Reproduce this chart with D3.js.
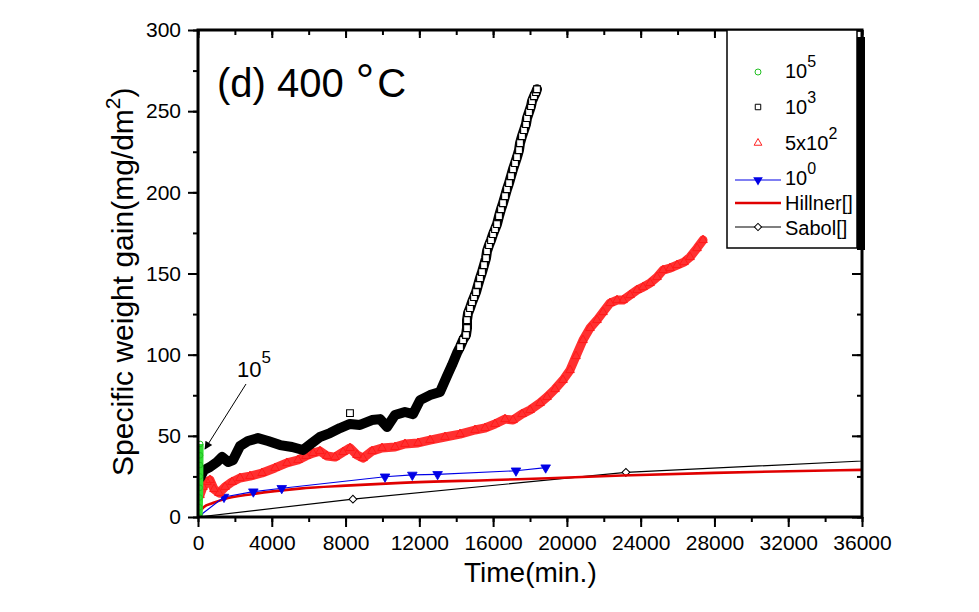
<!DOCTYPE html>
<html><head><meta charset="utf-8">
<script src="https://cdn.jsdelivr.net/npm/d3@7"></script>
<style>
body{margin:0;background:#fff}
svg{display:block}
text{font-family:"Liberation Sans",Arial,Helvetica,sans-serif;fill:#000}
</style>
</head><body>
<svg id="chart" width="979" height="612"></svg>
<script>
// ---------- data (time in min, specific weight gain in mg/dm2) ----------
const xTickValues = [0,4000,8000,12000,16000,20000,24000,28000,32000,36000];
const yTickValues = [0,50,100,150,200,250,300];

// 10^5 (green circles) - essentially a vertical cluster near t=0
const gain1e5 = [[60,0],[75,6],[85,12],[95,18],[100,25],[105,32],[110,38],[115,45]];

// 10^3 (black squares) - dense noisy part (appears as solid band)
const gain1e3Dense = [
 [108,24],[325,28.9],[650,30.8],[1030,33.9],[1300,37],[1630,33.9],[1900,35.1],[2280,43.7],
 [2710,46.8],[3250,48.6],[3800,46.8],[4450,44.3],[5100,43.1],[5690,41.3],[6180,45.6],[6610,49.3],
 [7160,51.7],[7700,54.8],[8240,57.3],[8780,56.7],[9430,59.7],[9870,60.3],[10250,55.4],[10680,62.8],
 [11220,64.7],[11660,63.4],[12040,72],[12580,75.1],[13120,77],[13500,86.8],[13770,93.6],[14040,101]
];
// 10^3 (black squares) - individually visible squares
const gain1e3Sparse = [
 [8240,64],
 [14206,104.7],[14369,109],[14531,112.1],[14585,116.4],[14585,121.3],[14640,125.6],[14748,128.7],
 [14857,132.4],[14965,135.5],[15074,138.5],[15182,142.9],[15290,147.2],[15399,150.9],[15507,155.2],
 [15616,159.5],[15670,163.8],[15778,167.5],[15887,170.6],[15995,174.3],[16104,177.3],[16212,180.4],
 [16320,185.3],[16429,189.7],[16537,193.3],[16646,197.7],[16754,202],[16863,205.7],[16971,210],
 [17079,214.3],[17188,218],[17296,221.7],[17405,226],[17459,230.3],[17567,234.6],[17676,238.3],
 [17784,242],[17838,245.7],[17947,249.4],[18055,253.1],[18109,256.2],[18218,259.2],[18326,261.7],[18380,263.5]
];

// 5x10^2 (red triangles)
const gain5e2 = [
 [108,13.5],[271,18.5],[488,21.6],[651,22.8],[868,17.2],[1139,14.8],[1464,18.5],[1843,21.6],
 [2277,24],[2819,25.2],[3470,27.1],[4175,30.2],[4825,33.3],[5422,35.1],[5856,37.6],[6235,39.4],
 [6615,40.6],[6994,37.6],[7428,36.9],[7862,40],[8241,42.5],[8621,38.2],[8946,36.3],[9434,40.6],
 [9976,42.5],[10681,43.1],[11223,45],[11928,45.6],[12579,47.4],[13392,49.3],[14206,51.1],[15019,53.6],
 [15561,54.8],[16103,57.3],[16646,60.3],[17079,59.7],[17567,63.4],[18001,65.9],[18543,70.2],[18923,73.9],
 [19357,78.8],[19790,84.4],[20170,90.5],[20495,99.1],[20875,109],[21254,116.4],[21634,121.3],[21959,126.2],
 [22339,131.8],[22718,133.6],[23044,133.6],[23423,136.7],[23803,139.8],[24128,141.6],[24508,144.1],
 [24887,147.8],[25212,152.1],[25592,153.3],[25971,155.2],[26351,157],[26676,160.1],[27056,165.6],[27381,170.6]
];

// 10^0 (blue line + down triangles)
const gain1e0 = [[0,0],[1410,12.3],[3000,15.6],[4540,17.7],[10140,24.8],[11620,25.9],[12990,26.3],[17240,28.5],[18850,30.4]];

// Hillner model (red line)
const hillner = [[0,0],[100,3],[300,6],[800,8.6],[1400,11],[3000,14.2],[5500,17.5],[8000,19.3],[11000,21],
 [16000,22.8],[19000,23.9],[23000,25.6],[28000,27.2],[32000,28.2],[36000,29]];

// Sabol model (black line + diamonds)
const sabol = [[0,0],[8400,11],[23200,27.5],[40000,36.7]];

// legend
const legendBase = ["10","10","5x10","10","Hillner[]","Sabol[]"];
const legendSup  = ["5","3","2","0","",""];

// ---------- drawing ----------
const svg = d3.select("#chart");
const L = 198, R = 862, T = 30, B = 517;
const x = d3.scaleLinear().domain([0,36000]).range([L,R]);
const y = d3.scaleLinear().domain([0,300]).range([B,T]);

svg.append("defs").append("clipPath").attr("id","plotclip")
  .append("rect").attr("x",L).attr("y",T).attr("width",R-L).attr("height",B-T);

const plot = svg.append("g").attr("clip-path","url(#plotclip)");
const line = d3.line().x(d=>x(d[0])).y(d=>y(d[1]));

// Sabol
plot.append("path").datum(sabol).attr("d",line).attr("fill","none").attr("stroke","#000").attr("stroke-width",1.2);
plot.selectAll(".sab").data(sabol).join("path")
  .attr("d",d3.symbol(d3.symbolSquare,30)())
  .attr("transform",d=>`translate(${x(d[0])},${y(d[1])}) rotate(45)`)
  .attr("fill","#fff").attr("stroke","#000").attr("stroke-width",1);

// Hillner
plot.append("path").datum(hillner).attr("d",d3.line().curve(d3.curveMonotoneX).x(d=>x(d[0])).y(d=>y(d[1])))
  .attr("fill","none").attr("stroke","#e00000").attr("stroke-width",2.6);

// 10^0 blue
plot.append("path").datum(gain1e0).attr("d",line).attr("fill","none").attr("stroke","#0000e6").attr("stroke-width",1.2);
plot.selectAll(".blu").data(gain1e0).join("path")
  .attr("d",d3.symbol(d3.symbolTriangle,40)())
  .attr("transform",d=>`translate(${x(d[0])},${y(d[1])}) rotate(180)`)
  .attr("fill","#0000e6").attr("stroke","#0000e6").attr("stroke-width",0.8);

// 5x10^2 red band + triangles
plot.append("path").datum(gain5e2).attr("d",line).attr("fill","none")
  .attr("stroke","#ff3030").attr("stroke-width",9).attr("stroke-linejoin","round").attr("stroke-linecap","round");
plot.selectAll(".red").data(gain5e2).join("path")
  .attr("d",d3.symbol(d3.symbolTriangle,32)())
  .attr("transform",d=>`translate(${x(d[0])},${y(d[1])})`)
  .attr("fill","none").attr("stroke","#ff1a1a").attr("stroke-width",1);

// 10^3 black
plot.append("path").datum(gain1e3Dense.concat(gain1e3Sparse.slice(1))).attr("d",line).attr("fill","none")
  .attr("stroke","#000").attr("stroke-width",10).attr("stroke-linejoin","round").attr("stroke-linecap","round");
plot.selectAll(".blk").data(gain1e3Sparse).join("path")
  .attr("d",d3.symbol(d3.symbolSquare,46)())
  .attr("transform",d=>`translate(${x(d[0])},${y(d[1])})`)
  .attr("fill","#fff").attr("stroke","#000").attr("stroke-width",1.1);

// 10^5 green
plot.append("path").datum(gain1e5).attr("d",line).attr("fill","none")
  .attr("stroke","#33dd33").attr("stroke-width",7).attr("stroke-linecap","butt");
plot.selectAll(".grn").data(gain1e5).join("circle")
  .attr("cx",d=>x(d[0])).attr("cy",d=>y(d[1])).attr("r",2.8)
  .attr("fill","none").attr("stroke","#22c022").attr("stroke-width",1);

// ---------- axes ----------
const fmt = d3.format("d");
const minorX = d3.range(0,36001,2000);
const minorY = d3.range(0,301,25);
function styleAxis(g){ g.select(".domain").remove(); g.selectAll("line").attr("stroke","#000").attr("stroke-width",2); }

svg.append("g").attr("transform",`translate(0,${B})`)
  .call(d3.axisBottom(x).tickValues(minorX).tickSize(5).tickFormat(""))
  .call(styleAxis);
svg.append("g").attr("transform",`translate(0,${B})`)
  .call(d3.axisBottom(x).tickValues(xTickValues).tickSize(10).tickPadding(8).tickFormat(fmt))
  .call(styleAxis)
  .call(g=>g.selectAll("text").attr("font-size",21).attr("font-family","Liberation Sans, Arial, sans-serif").attr("fill","#000"));
svg.append("g").attr("transform",`translate(0,${T})`)
  .call(d3.axisBottom(x).tickValues(minorX).tickSize(5).tickFormat("")).call(styleAxis);
svg.append("g").attr("transform",`translate(0,${T})`)
  .call(d3.axisBottom(x).tickValues(xTickValues).tickSize(8).tickFormat("")).call(styleAxis);

svg.append("g").attr("transform",`translate(${L},0)`)
  .call(d3.axisLeft(y).tickValues(minorY).tickSize(5).tickFormat("")).call(styleAxis);
svg.append("g").attr("transform",`translate(${L},0)`)
  .call(d3.axisLeft(y).tickValues(yTickValues).tickSize(10).tickPadding(7).tickFormat(fmt))
  .call(styleAxis)
  .call(g=>g.selectAll("text").attr("font-size",21).attr("font-family","Liberation Sans, Arial, sans-serif").attr("fill","#000"));
svg.append("g").attr("transform",`translate(${R},0)`)
  .call(d3.axisLeft(y).tickValues(minorY).tickSize(5).tickFormat("")).call(styleAxis);
svg.append("g").attr("transform",`translate(${R},0)`)
  .call(d3.axisLeft(y).tickValues(yTickValues).tickSize(10).tickFormat("")).call(styleAxis);

svg.append("rect").attr("x",L).attr("y",T).attr("width",R-L).attr("height",B-T)
  .attr("fill","none").attr("stroke","#000").attr("stroke-width",3);

// ---------- titles ----------
const tt = svg.append("text").attr("x",217).attr("y",97).attr("font-size",40);
tt.append("tspan").text("(d) 400");
tt.append("tspan").attr("dx",12).attr("font-size",46).text("\u00B0");
tt.append("tspan").attr("dx",3).text("C");
svg.append("text").attr("x",464).attr("y",582).attr("font-size",28).text("Time(min.)");
const yt = svg.append("text").attr("transform","translate(133,476) rotate(-90)").attr("font-size",30);
yt.append("tspan").text("Specific weight gain(mg/dm");
yt.append("tspan").attr("font-size",21).attr("dy",-13).text("2");
yt.append("tspan").attr("dy",13).text(")");

// annotation 10^5 with arrow
const an = svg.append("text").attr("x",237).attr("y",377).attr("font-size",22);
an.append("tspan").text("10");
an.append("tspan").attr("font-size",17).attr("dy",-14).text("5");
svg.append("defs").append("marker").attr("id","arr").attr("viewBox","0 0 10 10").attr("refX",9).attr("refY",5)
  .attr("markerWidth",10).attr("markerHeight",8).attr("markerUnits","userSpaceOnUse").attr("orient","auto")
  .append("path").attr("d","M0,0 L10,5 L0,10 z").attr("fill","#000");
svg.append("line").attr("x1",246).attr("y1",384).attr("x2",205).attr("y2",449)
  .attr("stroke","#000").attr("stroke-width",1).attr("marker-end","url(#arr)");

// ---------- legend ----------
svg.append("rect").attr("x",857).attr("y",37).attr("width",8).attr("height",213).attr("fill","#000");
svg.append("rect").attr("x",727).attr("y",30).attr("width",130).attr("height",218)
  .attr("fill","#fff").attr("stroke","#000").attr("stroke-width",1.5);
const rowY = [72,107,143,180,203,227];
const baseY = [78,114,150,185,210,235];
const lg = svg.append("g");
lg.append("circle").attr("cx",758).attr("cy",rowY[0]).attr("r",3).attr("fill","none").attr("stroke","#22c022");
lg.append("path").attr("d",d3.symbol(d3.symbolSquare,30)()).attr("transform",`translate(758,${rowY[1]})`)
  .attr("fill","#fff").attr("stroke","#000");
lg.append("path").attr("d",d3.symbol(d3.symbolTriangle,26)()).attr("transform",`translate(758,${rowY[2]})`)
  .attr("fill","#fff").attr("stroke","#ff2020");
lg.append("line").attr("x1",735).attr("x2",781).attr("y1",rowY[3]).attr("y2",rowY[3]).attr("stroke","#0000e6").attr("stroke-width",1.2);
lg.append("path").attr("d",d3.symbol(d3.symbolTriangle,40)()).attr("transform",`translate(758,${rowY[3]}) rotate(180)`)
  .attr("fill","#0000e6");
lg.append("line").attr("x1",735).attr("x2",781).attr("y1",rowY[4]).attr("y2",rowY[4]).attr("stroke","#e00000").attr("stroke-width",2.6);
lg.append("line").attr("x1",735).attr("x2",781).attr("y1",rowY[5]).attr("y2",rowY[5]).attr("stroke","#000").attr("stroke-width",1.2);
lg.append("path").attr("d",d3.symbol(d3.symbolSquare,26)()).attr("transform",`translate(758,${rowY[5]}) rotate(45)`)
  .attr("fill","#fff").attr("stroke","#000");
legendBase.forEach((b,i)=>{
  const t = lg.append("text").attr("x",785).attr("y",baseY[i]).attr("font-size",20);
  t.append("tspan").text(b);
  if (legendSup[i]) t.append("tspan").attr("font-size",16).attr("dy",-11).text(legendSup[i]);
});
</script>
</body></html>
